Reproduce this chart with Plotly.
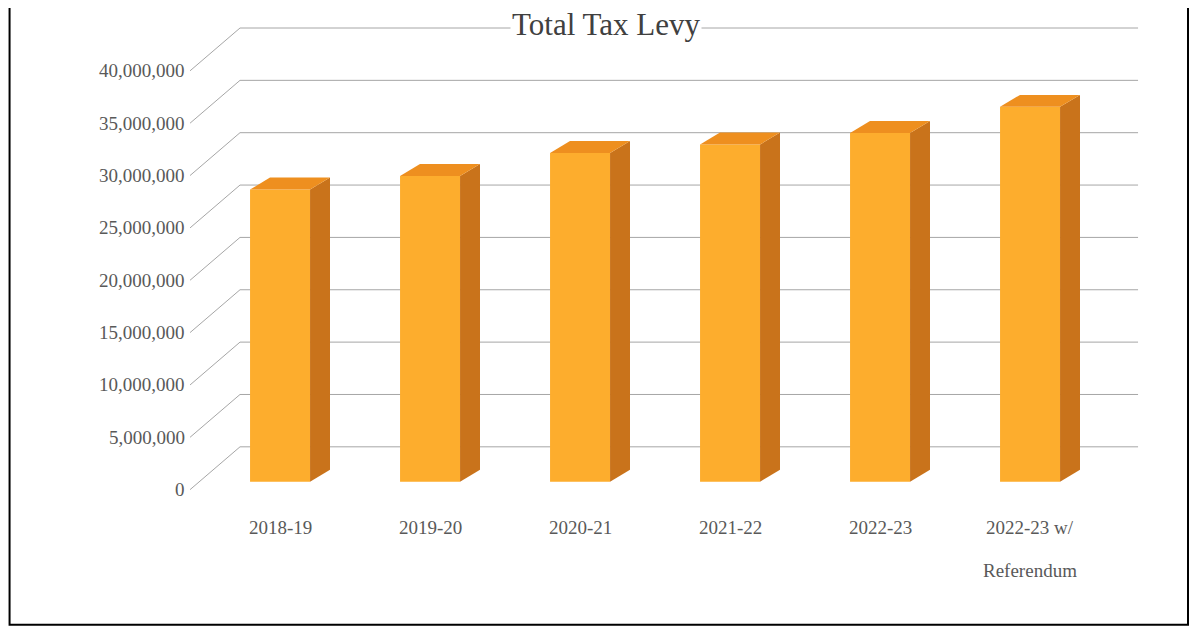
import plotly.graph_objects as go

categories = ["2018-19", "2019-20", "2020-21", "2021-22", "2022-23", "2022-23 w/"]
category_second_line = ["", "", "", "", "", "Referendum"]
levy = [27900000, 29200000, 31400000, 32200000, 33300000, 35800000]
tick_values = [0, 5000000, 10000000, 15000000, 20000000, 25000000, 30000000, 35000000, 40000000]

front_col = "#FDAD2D"
side_col = "#C9731B"
top_col = "#EE8F1F"
grid_col = "#A6A6A6"
text_col = "#595959"

M = 1e6
front_off = -0.76 * M   # front plane offset relative to bar plane
back_off = 3.33 * M     # back wall offset
x_front, x_back, x_end = -0.6, -0.267, 5.72
bar_w = 0.4
depth_x, depth_y = 0.133, 1.14 * M

xs = list(range(len(categories)))
fig = go.Figure()
fig.add_trace(go.Bar(x=xs, y=levy, width=bar_w, marker=dict(color=front_col, line=dict(width=0)),
                     hoverinfo="skip"))

shapes = []
for v in tick_values:
    shapes.append(dict(type="line", x0=x_front, y0=v + front_off, x1=x_back, y1=v + back_off,
                       line=dict(color=grid_col, width=1), layer="below"))
    shapes.append(dict(type="line", x0=x_back, y0=v + back_off, x1=x_end, y1=v + back_off,
                       line=dict(color=grid_col, width=1), layer="below"))

for x, v in zip(xs, levy):
    r = x + bar_w / 2
    l = x - bar_w / 2
    side = f"M {r} 0 L {r + depth_x} {depth_y} L {r + depth_x} {v + depth_y} L {r} {v} Z"
    top = f"M {l} {v} L {l + depth_x} {v + depth_y} L {r + depth_x} {v + depth_y} L {r} {v} Z"
    shapes.append(dict(type="path", path=side, fillcolor=side_col, line=dict(width=0)))
    shapes.append(dict(type="path", path=top, fillcolor=top_col, line=dict(width=0)))

shapes.append(dict(type="rect", xref="paper", yref="paper", x0=-0.0475, y0=-0.155, x1=1.0, y1=1.2,
                   line=dict(color="black", width=2)))

annotations = []
for v in tick_values:
    annotations.append(dict(x=-0.62, y=v + front_off, text=f"{v:,}", showarrow=False,
                            xanchor="right", yanchor="middle", font=dict(size=19, color=text_col)))
for x, c, c2 in zip(xs, categories, category_second_line):
    annotations.append(dict(x=x, y=-3.2 * M, text=c, showarrow=False, xanchor="center", yanchor="top",
                            font=dict(size=19, color=text_col)))
    if c2:
        annotations.append(dict(x=x, y=-0.03, yref="paper", text=c2, showarrow=False,
                                xanchor="center", yanchor="top", font=dict(size=19, color=text_col)))
annotations.append(dict(x=0.483, y=0.97, xref="paper", yref="paper", text="Total Tax Levy", showarrow=False,
                        xanchor="center", yanchor="middle", bgcolor="white",
                        font=dict(size=31, color="#404040")))

fig.update_layout(
    width=1200, height=630,
    margin=dict(l=55, r=20, t=0, b=96, autoexpand=False),
    paper_bgcolor="white", plot_bgcolor="white",
    font=dict(family="Liberation Serif, serif"),
    xaxis=dict(range=[-1.447, 6.053], visible=False),
    yaxis=dict(range=[-5.76 * M, 45.24 * M], visible=False),
    shapes=shapes, annotations=annotations, showlegend=False,
)

fig.write_html("out.html")
